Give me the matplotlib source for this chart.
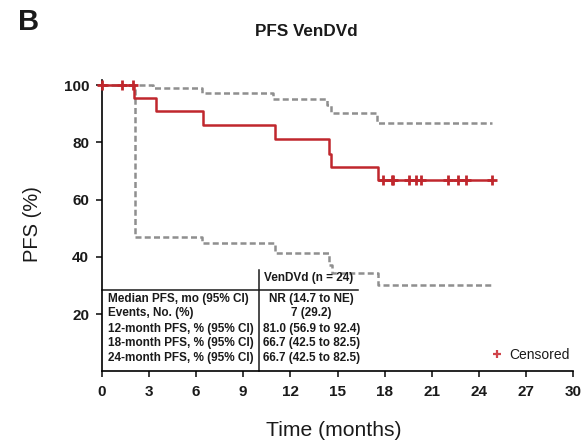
import matplotlib
matplotlib.use("Agg")
import matplotlib.pyplot as plt
from matplotlib.lines import Line2D

plt.rcParams['font.family'] = ['Liberation Sans', 'DejaVu Sans']

# ---- data ----
km_times = [0, 2.07, 3.44, 6.47, 11.03, 14.47, 14.58, 17.57, 24.86]
km_surv = [100, 95.5, 90.9, 86.2, 81.0, 75.9, 71.5, 66.7, 66.7]

upper_times = [0, 3.28, 6.4, 10.9, 14.35, 14.6, 17.5, 24.86]
upper_vals = [100, 99.1, 97.1, 95.0, 93.0, 90.1, 86.8, 86.8]

lower_times = [0, 2.12, 6.4, 11.0, 14.47, 14.68, 17.55, 24.86]
lower_vals = [100, 47.0, 44.7, 41.4, 37.1, 34.2, 30.0, 30.0]

censor_early_times = [0.0, 1.31, 2.01]
censor_late_times = [17.89, 18.46, 18.56, 19.56, 20.0, 20.33, 22.06, 22.66, 23.17, 24.86]

xticks = [0, 3, 6, 9, 12, 15, 18, 21, 24, 27, 30]
yticks = [20, 40, 60, 80, 100]

table_header = "VenDVd (n = 24)"
table_rows = ["Median PFS, mo (95% CI)", "Events, No. (%)",
              "12-month PFS, % (95% CI)", "18-month PFS, % (95% CI)",
              "24-month PFS, % (95% CI)"]
table_values = ["NR (14.7 to NE)", "7 (29.2)", "81.0 (56.9 to 92.4)",
                "66.7 (42.5 to 82.5)", "66.7 (42.5 to 82.5)"]

# ---- styles ----
RED = '#c0272d'
GREY = '#8f8f8f'
TXT = '#1a1a1a'

fig = plt.figure(figsize=(5.82, 4.41), dpi=100)
ax = fig.add_axes([101.7 / 582, 1 - 371.25 / 441, 471.6 / 582, 291.1 / 441])

ax.step(upper_times, upper_vals, where='post', color=GREY, lw=1.8,
        dashes=(2.4, 1.3), clip_on=False)
ax.step(lower_times, lower_vals, where='post', color=GREY, lw=1.8,
        dashes=(2.4, 1.3), clip_on=False)
ax.step(km_times, km_surv, where='post', color=RED, lw=1.8, clip_on=False)


def surv_at(t):
    v = km_surv[0]
    for tt, s in zip(km_times, km_surv):
        if tt <= t:
            v = s
    return v


ctimes = censor_early_times + censor_late_times
ax.plot(ctimes, [100 if t in censor_early_times else surv_at(t) for t in ctimes],
        ls='', marker='+', ms=7.5, mew=2.0, color=RED, clip_on=False, zorder=5)

ax.set_xlim(0, 30)
ax.set_ylim(0, 101.7)
ax.set_xticks(xticks)
ax.set_yticks(yticks)
ax.spines['top'].set_visible(False)
ax.spines['right'].set_visible(False)
for s in ['left', 'bottom']:
    ax.spines[s].set_linewidth(1.2)
ax.tick_params(axis='both', direction='out', length=4.5, width=1.2,
               labelsize=11, colors=TXT)
ax.tick_params(axis='x', pad=5.5)
ax.tick_params(axis='y', pad=4.5)
for lab in ax.get_xticklabels() + ax.get_yticklabels():
    lab.set_fontweight('bold')

ax.set_xlabel('Time (months)', fontsize=15.2, va='center', color=TXT)
ax.xaxis.set_label_coords(334 / 582, 1 - 430 / 441, transform=fig.transFigure)
ax.set_ylabel('PFS (%)', fontsize=14.5, va='center', color=TXT)
ax.yaxis.set_label_coords(32 / 582, 1 - 224 / 441, transform=fig.transFigure)

fig.text(306 / 582, 1 - 32 / 441, 'PFS VenDVd', ha='center', va='center',
         fontsize=12.3, fontweight='bold', color=TXT)
fig.text(18 / 582, 1 - 22 / 441, 'B', ha='left', va='center',
         fontsize=21, fontweight='bold', color=TXT)

# ---- table ----
TFS = 8.5
row_y = [25.4, 20.2, 14.9, 9.7, 4.5]
ax.plot([0, 16.3], [28.4, 28.4], color=TXT, lw=1.1, clip_on=False)
ax.plot([10.0, 10.0], [0, 35.5], color=TXT, lw=1.1, clip_on=False)
ax.text(10.3, 32.5, table_header, fontsize=TFS, va='center', ha='left',
        fontweight='bold', color=TXT)
for i, (lab, val) in enumerate(zip(table_rows, table_values)):
    ax.text(0.42, row_y[i], lab, fontsize=TFS, va='center', ha='left',
            fontweight='bold', color=TXT)
    if i < 2:
        ax.text(13.35, row_y[i], val, fontsize=TFS, va='center', ha='center',
                fontweight='bold', color=TXT)
    else:
        ax.text(10.25, row_y[i], val, fontsize=TFS, va='center', ha='left',
                fontweight='bold', color=TXT)

# ---- legend ----
h = Line2D([], [], ls='', marker='+', ms=6, mew=1.6, color='#d0444a')
leg = ax.legend(handles=[h], labels=['Censored'], frameon=False, loc='center left',
                bbox_to_anchor=(0.8085, 0.0558), borderpad=0, handlelength=1.0,
                handletextpad=0.36, fontsize=10)
for t in leg.get_texts():
    t.set_color(TXT)

fig.savefig('out.png', dpi=100)
